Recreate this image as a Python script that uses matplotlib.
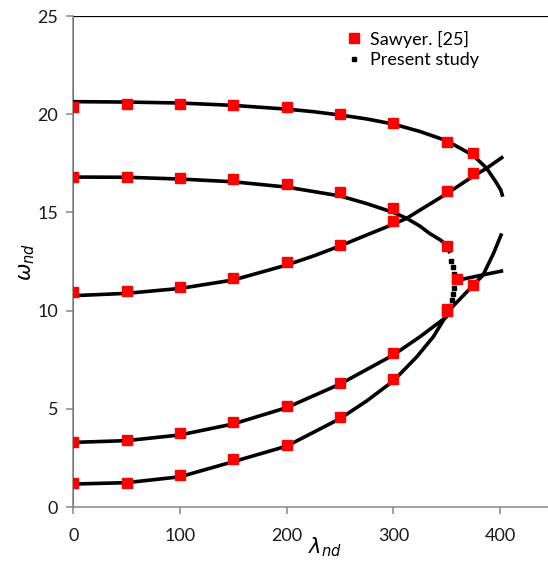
import numpy as np
import matplotlib
matplotlib.use('Agg')
import matplotlib.pyplot as plt
from matplotlib.lines import Line2D

plt.rcParams['font.family'] = ['Lato', 'DejaVu Sans']
plt.rcParams['mathtext.fontset'] = 'dejavusans'

# Sawyer [25] reference points (red squares)
saw_lam_1 = [0, 50, 100, 150, 200, 250, 300, 350, 375]
saw_w_1 = [20.35, 20.52, 20.52, 20.45, 20.35, 20.01, 19.53, 18.6, 18.0]
saw_lam_2 = [0, 50, 100, 150, 200, 250, 300, 350, 360]
saw_w_2 = [16.82, 16.82, 16.73, 16.68, 16.45, 16.02, 15.2, 13.29, 11.6]
saw_lam_3 = [0, 50, 100, 150, 200, 250, 300, 350, 375]
saw_w_3 = [10.96, 11.0, 11.22, 11.64, 12.46, 13.34, 14.56, 16.1, 16.99]
saw_lam_4 = [0, 50, 100, 150, 200, 250, 300, 350, 375]
saw_w_4 = [3.33, 3.41, 3.75, 4.34, 5.16, 6.33, 7.86, 10.1, 11.3]
saw_lam_5 = [0, 50, 100, 150, 200, 250, 300, 350]
saw_w_5 = [1.24, 1.24, 1.63, 2.43, 3.17, 4.6, 6.5, 9.99]

# present study curves
ps_lam_1 = [0, 50, 100, 150, 200, 225, 250, 275, 300, 325, 350, 375, 387.5, 397, 400.7, 402.6]
ps_w_1 = [20.64, 20.62, 20.57, 20.45, 20.26, 20.13, 19.96, 19.76, 19.5, 19.12, 18.65, 17.9, 17.25, 16.48, 16.14, 15.8]
ps_lam_2 = [0, 50, 100, 150, 200, 250, 275, 300, 312.5, 325, 334, 344, 350, 353]
ps_w_2 = [16.8, 16.79, 16.7, 16.56, 16.29, 15.84, 15.45, 15.0, 14.7, 14.3, 13.93, 13.6, 13.34, 12.92]
ps_lam_3 = [0, 50, 100, 150, 200, 225, 250, 275, 300, 312.5, 325, 350, 375, 387.5, 403]
ps_w_3 = [10.76, 10.88, 11.13, 11.56, 12.32, 12.78, 13.29, 13.85, 14.4, 14.7, 15.12, 15.95, 16.85, 17.25, 17.84]
ps_lam_4 = [0, 50, 100, 150, 200, 250, 300, 325, 350, 352, 375, 384, 393.8, 401.6]
ps_w_4 = [3.29, 3.38, 3.67, 4.23, 5.06, 6.26, 7.74, 8.67, 9.69, 10.0, 11.3, 11.8, 12.9, 13.93]
ps_lam_5 = [0, 50, 100, 150, 200, 250, 275, 300, 322, 337.5, 350, 352]
ps_w_5 = [1.17, 1.24, 1.54, 2.31, 3.1, 4.5, 5.4, 6.42, 7.65, 8.67, 9.78, 10.03]
ps_lam_6 = [357, 365, 384, 403]
ps_w_6 = [11.5, 11.6, 11.82, 12.03]
# sparse dotted turning part near lambda ~ 357
ps_lam_nose = [354.4, 355.8, 356.8, 357.2, 357.0, 356.2, 354.8, 353.2]
ps_w_nose = [12.55, 12.2, 11.85, 11.5, 11.15, 10.85, 10.55, 10.25]

fig = plt.figure(figsize=(5.48, 5.66), dpi=100)
ax = fig.add_axes([0.1338, 0.1042, 0.8662, 0.8675])

for lam, w in [(ps_lam_1, ps_w_1), (ps_lam_2, ps_w_2), (ps_lam_3, ps_w_3),
               (ps_lam_4, ps_w_4), (ps_lam_5, ps_w_5), (ps_lam_6, ps_w_6)]:
    ax.plot(lam, w, color='black', lw=2.6, solid_capstyle='butt', zorder=3)
ax.plot(ps_lam_nose, ps_w_nose, ls='none', marker='s', ms=2.2, color='black', zorder=3)

for lam, w in [(saw_lam_1, saw_w_1), (saw_lam_2, saw_w_2), (saw_lam_3, saw_w_3),
               (saw_lam_4, saw_w_4), (saw_lam_5, saw_w_5)]:
    ax.plot(lam, w, ls='none', marker='s', ms=7.2, color='#ff0000', mec='#ff0000', zorder=4)

# black frame lines at lambda=0 and omega=25
ax.axvline(0, color='black', lw=1.1, zorder=2)
ax.axhline(25, color='black', lw=1.6, zorder=2)

ax.set_xlim(0, 445)
ax.set_ylim(0, 25)
ax.set_xticks([0, 100, 200, 300, 400])
ax.set_yticks([0, 5, 10, 15, 20, 25])
for s in ['top', 'right']:
    ax.spines[s].set_visible(False)
for s in ['left', 'bottom']:
    ax.spines[s].set_color('#868686')
    ax.spines[s].set_linewidth(1.1)
ax.tick_params(axis='both', colors='#868686', length=5, width=1.1, labelsize=13, labelcolor='#1a1a1a')
ax.tick_params(axis='x', pad=10)
ax.tick_params(axis='y', pad=6)

ax.set_xlabel(r'$\lambda_{nd}$', fontsize=15)
ax.xaxis.set_label_coords(0.53, -0.058)
ax.set_ylabel(r'$\omega_{nd}$', fontsize=15, labelpad=0)

handles = [Line2D([], [], ls='none', marker='s', ms=7.2, color='#ff0000'),
           Line2D([], [], ls='none', marker='s', ms=2.2, color='black')]
ax.legend(handles, ['Sawyer. [25]', 'Present study'], loc='upper left',
          bbox_to_anchor=(0.56, 0.985), frameon=False, fontsize=13,
          handlelength=0.8, handletextpad=0.5, labelspacing=0.25, borderaxespad=0)

fig.savefig('out.png', dpi=100)
